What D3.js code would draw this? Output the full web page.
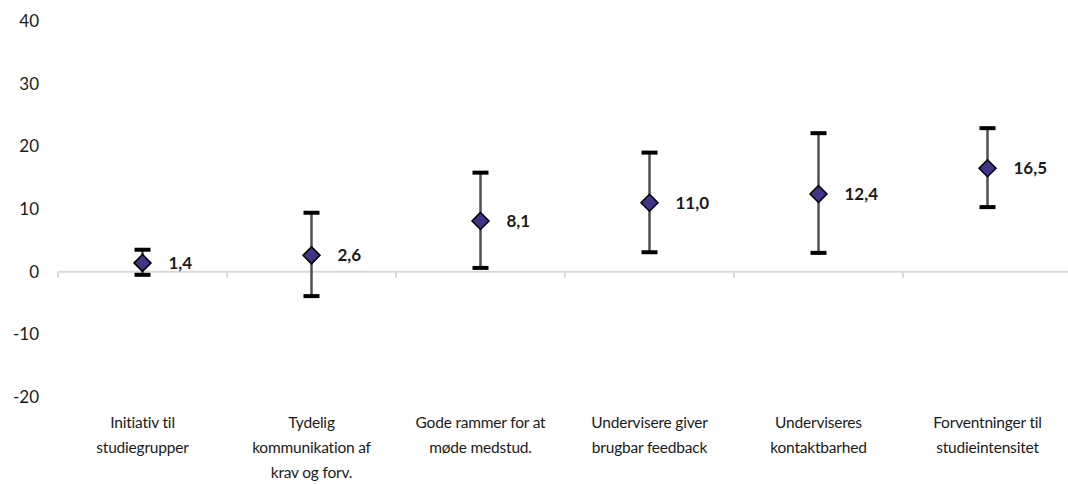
<!DOCTYPE html>
<html>
<head>
<meta charset="utf-8">
<script src="https://cdn.jsdelivr.net/npm/d3@7"></script>
<style>
  body { margin: 0; background: #fff; }
  svg { font-family: Lato, "Open Sans", sans-serif; }
</style>
</head>
<body>
<svg id="chart" width="1068" height="484"></svg>
<script>
// chart data
const categories = [
  ['Initiativ til', 'studiegrupper'],
  ['Tydelig', 'kommunikation af', 'krav og forv.'],
  ['Gode rammer for at', 'møde medstud.'],
  ['Undervisere giver', 'brugbar feedback'],
  ['Underviseres', 'kontaktbarhed'],
  ['Forventninger til', 'studieintensitet']
];
const estimates = [1.4, 2.6, 8.1, 11.0, 12.4, 16.5];
const lower = [-0.5, -3.9, 0.6, 3.1, 3.0, 10.3];
const upper = [3.5, 9.4, 15.8, 19.0, 22.1, 22.9];
const yTicks = [-20, -10, 0, 10, 20, 30, 40];

let svg = d3.select('#chart');

let x = d3.scaleBand()
  .domain(d3.range(categories.length))
  .range([58, 1072])
  .padding(0);

let y = d3.scaleLinear()
  .domain([-20, 40])
  .range([397, 21]);

// y axis labels only (no line)
let yAxis = d3.axisLeft(y)
  .tickValues(yTicks)
  .tickSize(0)
  .tickPadding(0)
  .tickFormat(d => d);
svg.append('g')
  .attr('transform', 'translate(39,0)')
  .call(yAxis)
  .call(g => g.select('.domain').remove())
  .selectAll('text')
  .attr('font-size', 17)
  .attr('fill', '#1a1a1a')
  .attr('font-family', 'Lato, sans-serif');

// x axis line at zero
let gx = svg.append('g')
  .attr('transform', 'translate(0,' + y(0) + ')');
gx.append('line')
  .attr('x1', x.range()[0]).attr('x2', x.range()[1])
  .attr('stroke', '#d9d9d9').attr('stroke-width', 2);
gx.selectAll('line.tick')
  .data(d3.range(categories.length + 1))
  .enter()
  .append('line')
  .attr('class', 'tick')
  .attr('x1', i => x.range()[0] + i * x.bandwidth())
  .attr('x2', i => x.range()[0] + i * x.bandwidth())
  .attr('y1', 0).attr('y2', 6)
  .attr('stroke', '#d9d9d9').attr('stroke-width', 2);

// category labels
let cat = svg.append('g').selectAll('text.cat')
  .data(categories)
  .enter()
  .append('text')
  .attr('class', 'cat')
  .attr('text-anchor', 'middle')
  .attr('font-size', 15.5)
  .attr('letter-spacing', -0.2)
  .attr('fill', '#1a1a1a');
cat.selectAll('tspan')
  .data((d, i) => d.map(line => ({line: line, i: i})))
  .enter()
  .append('tspan')
  .attr('x', d => x(d.i) + x.bandwidth() / 2)
  .attr('y', (d, j) => 428 + j * 25)
  .text(d => d.line);

let cx = i => x(i) + x.bandwidth() / 2;
let capW = 8;

let bars = svg.append('g').selectAll('g.bar')
  .data(estimates)
  .enter()
  .append('g')
  .attr('class', 'bar');

// whisker
bars.append('line')
  .attr('x1', (d, i) => cx(i)).attr('x2', (d, i) => cx(i))
  .attr('y1', (d, i) => y(lower[i])).attr('y2', (d, i) => y(upper[i]))
  .attr('stroke', '#505050').attr('stroke-width', 2.5);

// caps
bars.append('line')
  .attr('x1', (d, i) => cx(i) - capW).attr('x2', (d, i) => cx(i) + capW)
  .attr('y1', (d, i) => y(upper[i])).attr('y2', (d, i) => y(upper[i]))
  .attr('stroke', '#000').attr('stroke-width', 4);
bars.append('line')
  .attr('x1', (d, i) => cx(i) - capW).attr('x2', (d, i) => cx(i) + capW)
  .attr('y1', (d, i) => y(lower[i])).attr('y2', (d, i) => y(lower[i]))
  .attr('stroke', '#000').attr('stroke-width', 4);

// diamond marker
bars.append('path')
  .attr('d', 'M0,-8.5L8.5,0L0,8.5L-8.5,0Z')
  .attr('transform', (d, i) => 'translate(' + cx(i) + ',' + y(d) + ')')
  .attr('fill', '#3f3486')
  .attr('stroke', '#000')
  .attr('stroke-width', 1.5);

// value labels
bars.append('text')
  .attr('x', (d, i) => cx(i) + 26)
  .attr('y', d => y(d))
  .attr('dy', '0.35em')
  .attr('font-size', 17)
  .attr('font-weight', 'bold')
  .attr('fill', '#1a1a1a')
  .text(d => d3.format('.1f')(d).replace('.', ','));
</script>
</body>
</html>
